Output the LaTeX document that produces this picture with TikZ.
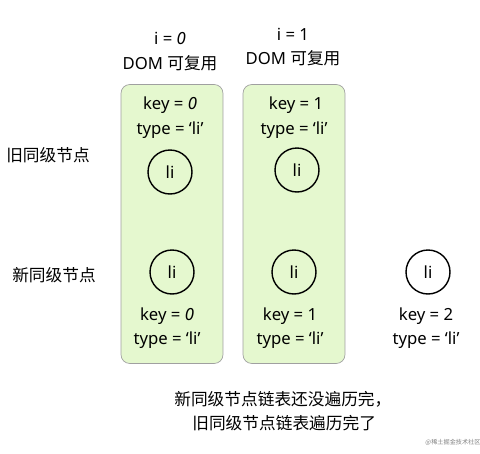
\documentclass[tikz,border=0pt]{standalone}
\usepackage{fontspec}
\setmainfont{Noto Sans}
\newfontfamily\cjk{Noto Sans CJK SC}
\usetikzlibrary{positioning}
\definecolor{reusegreen}{HTML}{E5F8CF}
\definecolor{reuseline}{HTML}{A0A0A0}
\tikzstyle{reuse}=[rectangle,draw=reuseline,fill=reusegreen,rounded corners=5pt,minimum width=2.04cm,minimum height=5.58cm,inner sep=0pt]
\tikzstyle{vnode}=[circle,draw=black,thick,minimum size=0.88cm,inner sep=0pt,font=\fontsize{9.5}{11}\selectfont]
\tikzstyle{lbl}=[inner sep=0pt,font=\fontsize{9.5}{11}\selectfont]
\tikzstyle{zh}=[inner sep=0pt,font=\fontsize{9.5}{11}\selectfont\cjk]

\begin{document}
\begin{tikzpicture}[x=0.02cm,y=-0.02cm]
  \useasboundingbox (0,0) rectangle (480,453);
  % row labels
  \node[zh] (oldrow) at (48,155) {旧同级节点};
  \node[zh] (newrow) at (54,275) {新同级节点};
  % reusable pair i = 0
  \begin{scope}
    \node[reuse] (box0) at (172,224) {};
    \node[lbl] (i0) at (170,38) {i = \textit{0}};
    \node[lbl] (dom0) at (170,63) {DOM {\cjk 可复用}};
    \node[lbl] (okey0) at (170,105) {key = \textit{0}};
    \node[lbl] (otype0) at (170,130) {type = ‘li’};
    \node[vnode] (old0) at (170,172) {li};
    \node[vnode] (new0) at (172,272) {li};
    \node[lbl] (nkey0) at (167,316) {key = \textit{0}};
    \node[lbl] (ntype0) at (167,340) {type = ‘li’};
  \end{scope}
  % reusable pair i = 1
  \begin{scope}
    \node[reuse] (box1) at (294,224) {};
    \node[lbl] (i1) at (293,34) {i = 1};
    \node[lbl] (dom1) at (293,58) {DOM {\cjk 可复用}};
    \node[lbl] (okey1) at (296,105) {key = 1};
    \node[lbl] (otype1) at (294,130) {type = ‘li’};
    \node[vnode] (old1) at (297,170) {li};
    \node[vnode] (new1) at (294,272) {li};
    \node[lbl] (nkey1) at (290,316) {key = 1};
    \node[lbl] (ntype1) at (290,340) {type = ‘li’};
  \end{scope}
  % new node left over
  \node[vnode] (new2) at (428,272) {li};
  \node[lbl] (nkey2) at (426,316) {key = 2};
  \node[lbl] (ntype2) at (426,340) {type = ‘li’};
  % note
  \node[zh,anchor=west] (note1) at (174,399) {新同级节点链表还没遍历完，};
  \node[zh,anchor=west] (note2) at (192,423) {旧同级节点链表遍历完了};
  \node[zh,font=\fontsize{3.5}{4}\selectfont\cjk,text=gray] (mark) at (453,442) {@稀土掘金技术社区};
\end{tikzpicture}
\end{document}
